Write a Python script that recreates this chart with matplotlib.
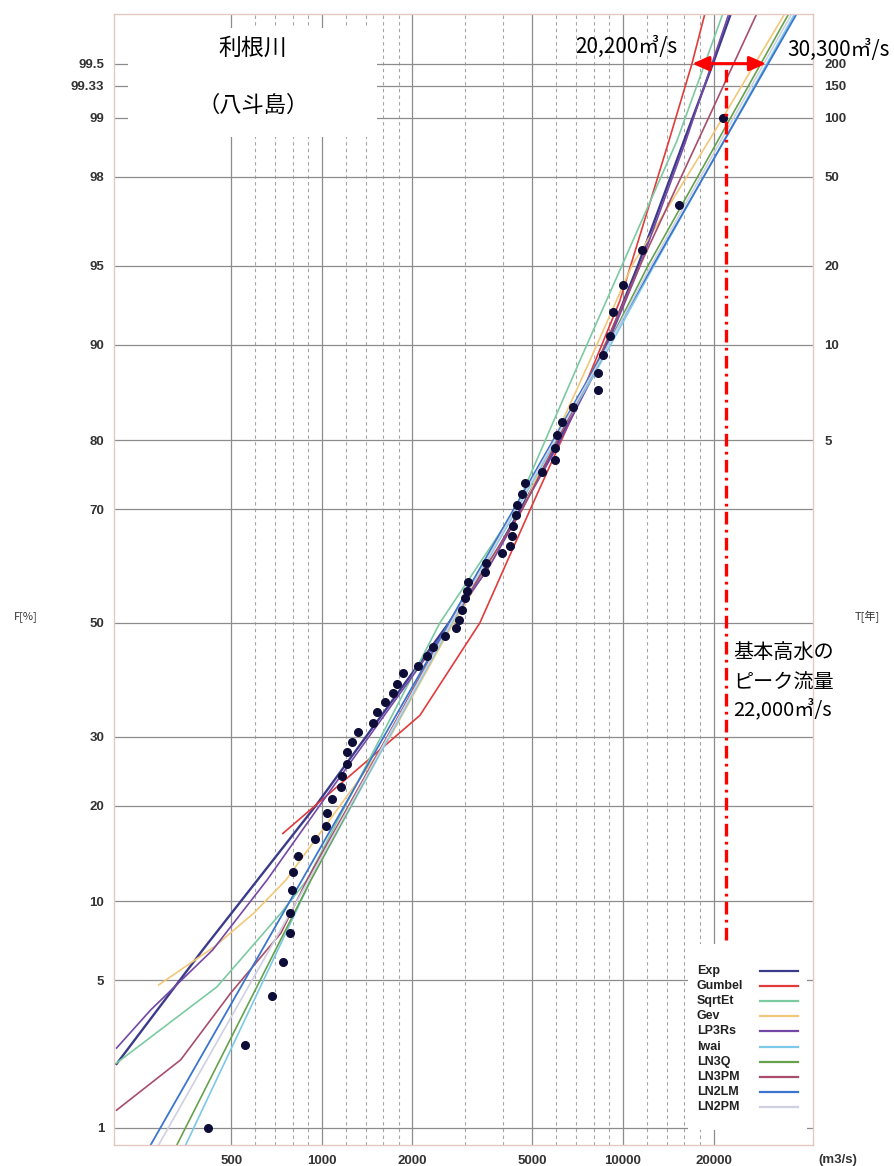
import numpy as np
import matplotlib
matplotlib.use("Agg")
import matplotlib.pyplot as plt
from matplotlib.patches import Rectangle
from matplotlib.ticker import FixedLocator, NullLocator, NullFormatter
from statistics import NormalDist

##################################################
# data
##################################################

# observed annual peaks: discharge [m3/s] and plotting position F [%]
obs_q = [418, 555, 682, 741, 783, 786, 795, 801, 832, 947, 1035, 1042, 1080, 1162, 1168,
         1208, 1214, 1258, 1318, 1477, 1523, 1619, 1721, 1774, 1858, 2084, 2233, 2338, 2564,
         2788, 2853, 2919, 2987, 3033, 3057, 3481, 3509, 3963, 4214, 4279, 4312, 4412, 4446,
         4616, 4724, 5379, 5930, 5960, 6037, 6273, 6819, 8240, 8280, 8590, 9060, 9270,
         10000, 11560, 15340, 21470]
obs_f = [1.0, 2.6, 4.3, 5.9, 7.65, 9.1, 10.9, 12.6, 14.1, 16.0, 17.5, 19.0, 20.8, 22.5, 24.0,
         25.8, 27.6, 29.1, 30.7, 32.3, 34.0, 35.7, 37.4, 39.0, 40.8, 42.2, 44.0, 45.5, 47.5,
         49.0, 50.6, 52.3, 54.5, 55.8, 57.4, 59.2, 60.8, 62.6, 63.9, 65.6, 67.3, 69.0, 70.7,
         72.4, 74.0, 75.7, 77.4, 79.0, 80.7, 82.3, 84.0, 85.8, 87.5, 89.1, 90.7, 92.4,
         94.0, 95.7, 97.3, 99.0]

# fitted distributions (discharge, non-exceedance %)
exp_q = [208, 402, 955, 2602, 3479, 5944, 8390, 11210, 15950, 19910, 22850]
exp_f = [2.11, 6.6, 20.0, 49.5, 59.2, 79.0, 88.65, 95.0, 98.68, 99.5, 99.75]

gumbel_q = [742, 2117, 3349, 4909, 6926, 9770, 14220, 16960, 18730]
gumbel_f = [16.6, 33.5, 50.0, 69.8, 83.6, 93.1, 98.68, 99.5, 99.75]

sqrtet_q = [208, 448, 731, 892, 2466, 4380, 7196, 9920, 15120, 21490]
sqrtet_f = [2.13, 4.68, 9.06, 11.8, 50.0, 69.8, 88.65, 95.0, 98.68, 99.75]

gev_q = [287, 438, 594, 759, 1682, 2703, 4618, 7770, 10710, 19310, 34530]
gev_f = [4.77, 6.77, 9.06, 11.8, 29.9, 49.5, 69.8, 88.65, 95.0, 98.68, 99.75]

lp3rs_q = [208, 270, 434, 657, 1088, 2602, 3614, 5944, 8390, 11300, 16100, 22500]
lp3rs_f = [2.51, 3.73, 6.6, 11.8, 22.5, 49.0, 60.4, 78.6, 88.47, 94.86, 98.65, 99.75]

iwai_q = [353, 919, 2703, 8520, 12680, 37270]
iwai_f = [0.81, 11.8, 50.0, 88.65, 95.0, 99.75]

ln3q_q = [330, 919, 2642, 8390, 12110, 35600]
ln3q_f = [0.81, 11.8, 50.0, 88.65, 95.0, 99.75]

ln3pm_q = [208, 340, 498, 731, 892, 1644, 2662, 4618, 8260, 11390, 17750, 27870]
ln3pm_f = [1.24, 2.21, 4.41, 7.65, 11.8, 29.9, 50.0, 69.8, 88.65, 95.0, 98.68, 99.75]

ln2lm_q = [270, 2642, 37840]
ln2lm_f = [0.81, 50.0, 99.75]

ln2pm_q = [287, 905, 2683, 8390, 12390, 36430]
ln2pm_f = [0.81, 11.8, 50.0, 88.65, 95.0, 99.75]

# annotation values
design_q = 22000          # 基本高水のピーク流量
design_f_range = [7.2, 99.5]
range_lo_q = 17000        # arrow ends as drawn
range_hi_q = 29900
range_f = 99.5

# axes ticks
q_major = [500, 1000, 2000, 5000, 10000, 20000]
q_minor = [600, 700, 800, 900, 1200, 1400, 1600, 1800, 3000, 4000,
           6000, 7000, 8000, 9000, 12000, 14000, 16000, 18000]
f_ticks = [1, 5, 10, 20, 30, 50, 70, 80, 90, 95, 98, 99, 99.33, 99.5]
f_labels = ["1", "5", "10", "20", "30", "50", "70", "80", "90", "95", "98", "99", "99.33", "99.5"]
t_ticks = [80, 90, 95, 98, 99, 99.33, 99.5]
t_labels = ["5", "10", "20", "50", "100", "150", "200"]

##################################################
# normal probability scale
##################################################

ND = NormalDist()
_ppf = np.vectorize(ND.inv_cdf, otypes=[float])
_cdf = np.vectorize(ND.cdf, otypes=[float])


def prob_fwd(f):
    f = np.clip(np.asarray(f, dtype=float), 1e-4, 100 - 1e-4)
    return _ppf(f / 100.0)


def prob_inv(z):
    return _cdf(np.asarray(z, dtype=float)) * 100.0


##################################################
# plot
##################################################

JP = ["Noto Sans CJK JP", "DejaVu Sans"]
LAT = "Liberation Sans"

fig = plt.figure(figsize=(8.94, 11.66), dpi=100)
ax = fig.add_axes([114 / 894, 1 - 1145 / 1166, 699 / 894, 1131 / 1166])

ax.set_xscale("log")
ax.set_yscale("function", functions=(prob_fwd, prob_inv))
ax.set_xlim(204, 42800)
ax.set_ylim(0.809, 99.748)

ax.xaxis.set_major_locator(FixedLocator(q_major))
ax.xaxis.set_minor_locator(FixedLocator(q_minor))
ax.xaxis.set_minor_formatter(NullFormatter())
ax.set_xticklabels([str(v) for v in q_major], fontfamily=LAT, fontsize=9.5,
                   fontweight="bold", color="#333333")
ax.set_yticks(f_ticks)
ax.set_yticklabels(f_labels, fontfamily=LAT, fontsize=9.5, fontweight="bold", color="#333333")
ax.yaxis.set_minor_locator(NullLocator())
ax.tick_params(which="both", length=0)
ax.tick_params(axis="x", pad=7)
ax.tick_params(axis="y", pad=7)

ax.set_axisbelow(True)
ax.grid(True, which="major", color="#8c8c8c", lw=0.9, ls="-")
ax.grid(True, which="minor", axis="x", color="#a4a4a4", lw=0.8, ls=(0, (3, 3)))
for s in ax.spines.values():
    s.set_color("#e6c8c2")
    s.set_linewidth(1.0)

# right axis: return period
ax2 = ax.twinx()
ax2.set_yscale("function", functions=(prob_fwd, prob_inv))
ax2.set_ylim(ax.get_ylim())
ax2.set_yticks(t_ticks)
ax2.set_yticklabels(t_labels, fontfamily=LAT, fontsize=9.5, fontweight="bold", color="#333333")
ax2.yaxis.set_minor_locator(NullLocator())
ax2.tick_params(length=0, pad=8)
for s in ax2.spines.values():
    s.set_visible(False)

# fitted curves
curves = [
    ("Exp", exp_q, exp_f, "#3b3b8a", 1.7),
    ("Gumbel", gumbel_q, gumbel_f, "#e23b3b", 1.2),
    ("SqrtEt", sqrtet_q, sqrtet_f, "#7ccaa2", 1.2),
    ("Gev", gev_q, gev_f, "#f2c878", 1.2),
    ("LP3Rs", lp3rs_q, lp3rs_f, "#7448a6", 1.2),
    ("Iwai", iwai_q, iwai_f, "#7cc8e8", 1.2),
    ("LN3Q", ln3q_q, ln3q_f, "#66a24c", 1.2),
    ("LN3PM", ln3pm_q, ln3pm_f, "#a84e6c", 1.2),
    ("LN2LM", ln2lm_q, ln2lm_f, "#3a76d0", 1.3),
    ("LN2PM", ln2pm_q, ln2pm_f, "#cfd0e2", 1.2),
]
for name, q, f, c, lw in curves:
    ax.plot(q, f, color=c, lw=lw, zorder=2)

ax.plot(obs_q, obs_f, "o", color="#0d0d38", ms=5.5, zorder=3)

# design discharge line and range arrow
ax.vlines(design_q, design_f_range[0], design_f_range[1], color="red", lw=2.4,
          linestyles=[(0, (3.8, 1.6, 0.8, 1.6))], zorder=4)
ax.annotate("", xy=(range_lo_q, range_f), xytext=(range_hi_q, range_f),
            arrowprops=dict(arrowstyle="<|-|>,head_length=0.5,head_width=0.22",
                            color="red", lw=2.2, shrinkA=0, shrinkB=0,
                            mutation_scale=20),
            zorder=4)

# title box
ax.add_patch(Rectangle((0.020, 0.891), 0.356, 0.097, transform=ax.transAxes,
                       facecolor="white", edgecolor="none", zorder=1.5))
fig.text(253 / 894, 1 - 48 / 1166, "利根川", family=JP, fontsize=16.5,
         ha="center", va="center")
fig.text(253 / 894, 1 - 105 / 1166, "（八斗島）", family=JP, fontsize=16,
         ha="center", va="center")

# legend (text left, line right)
ax.add_patch(Rectangle((0.821, 0.0133), 0.170, 0.164, transform=ax.transAxes,
                       facecolor="white", edgecolor="none", zorder=5))
for i, (name, q, f, c, lw) in enumerate(curves):
    yy = 0.1538 - i * 0.01335
    ax.text(0.834, yy, name, transform=ax.transAxes, fontfamily=LAT, fontsize=9,
            fontweight="bold", color="#222222", va="center", zorder=6)
    ax.plot([0.924, 0.9785], [yy, yy], transform=ax.transAxes, color=c, lw=1.6,
            zorder=6, clip_on=False)

# annotations
fig.text(575 / 894, 1 - 47 / 1166, "20,200㎥/s", family=JP, fontsize=15, va="center")
fig.text(787 / 894, 1 - 50 / 1166, "30,300㎥/s", family=JP, fontsize=15, va="center")
fig.text(733 / 894, 1 - 652 / 1166, "基本高水の", family=JP, fontsize=14.5, va="center")
fig.text(733 / 894, 1 - 683 / 1166, "ピーク流量", family=JP, fontsize=14.5, va="center")
fig.text(733 / 894, 1 - 709 / 1166, "22,000㎥/s", family=JP, fontsize=14.5, va="center")

fig.text(26 / 894, 1 - 617 / 1166, "F[%]", family=JP, fontsize=8, ha="center",
         va="center", color="#333333")
fig.text(867 / 894, 1 - 617 / 1166, "T[年]", family=JP, fontsize=8, ha="center",
         va="center", color="#333333")
fig.text(838 / 894, 1 - 1160 / 1166, "(m3/s)", fontfamily=LAT, fontsize=9.5,
         fontweight="bold", color="#333333", ha="center", va="center")

fig.savefig("out.png", dpi=100, facecolor="white")
